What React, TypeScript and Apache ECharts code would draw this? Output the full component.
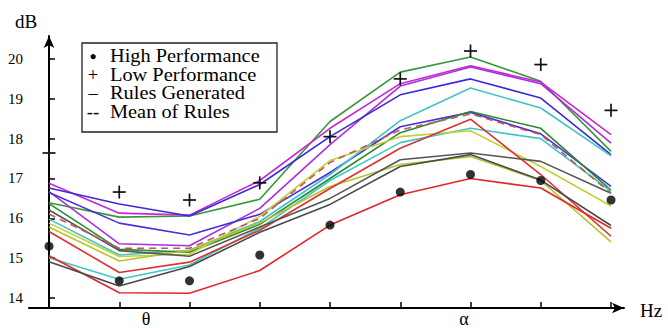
import React, { useEffect, useRef } from "react";
import * as echarts from "echarts";

const xIndex = [0, 1, 2, 3, 4, 5, 6, 7, 8];
const yTicks = [14, 15, 16, 17, 18, 19, 20];

const highPerformance = [15.3, 14.43, 14.43, 15.08, 15.83, 16.66, 17.1, 16.95, 16.46];
const lowPerformance = [17.64, 16.66, 16.46, 16.89, 18.05, 19.5, 20.2, 19.86, 18.71];
const meanOfRules = [16.11, 15.25, 15.25, 16.0, 17.4, 18.22, 18.62, 18.1, 16.63];

const ruleM1 = [16.88, 16.13, 16.08, 16.95, 18.26, 19.38, 19.83, 19.42, 18.1];
const ruleM2 = [16.67, 15.36, 15.31, 16.25, 17.85, 19.32, 19.8, 19.38, 17.89];
const ruleB1 = [16.76, 16.36, 16.06, 16.85, 18.05, 19.1, 19.5, 19.02, 17.6];
const ruleB2 = [16.65, 15.88, 15.58, 16.1, 17.15, 18.3, 18.66, 18.12, 16.8];
const ruleG1 = [16.39, 16.03, 16.06, 16.48, 18.43, 19.67, 20.05, 19.44, 17.68];
const ruleG2 = [16.37, 15.22, 15.15, 15.85, 17.0, 18.15, 18.68, 18.26, 16.71];
const ruleC1 = [15.98, 15.08, 15.2, 15.92, 17.1, 18.45, 19.27, 18.77, 17.57];
const ruleC2 = [15.01, 14.47, 14.83, 15.75, 16.95, 17.9, 18.26, 18.0, 16.68];
const ruleY1 = [15.88, 15.04, 15.1, 16.05, 17.45, 18.05, 18.2, 17.3, 16.31];
const ruleY2 = [15.78, 14.93, 15.2, 15.88, 16.8, 17.35, 17.55, 16.95, 15.41];
const ruleR1 = [15.67, 14.64, 14.9, 15.7, 16.75, 17.76, 18.49, 17.1, 15.55];
const ruleR2 = [15.06, 14.13, 14.12, 14.69, 15.83, 16.59, 17.0, 16.76, 15.75];
const ruleK1 = [16.21, 15.19, 15.05, 15.78, 16.5, 17.47, 17.64, 17.43, 16.63];
const ruleK2 = [14.91, 14.3, 14.79, 15.65, 16.35, 17.3, 17.6, 16.96, 15.82];

const rules: { values: number[]; color: string }[] = [
  { values: ruleG1, color: "#3a963a" },
  { values: ruleM1, color: "#c828d0" },
  { values: ruleM2, color: "#a830e0" },
  { values: ruleB1, color: "#3a2ad8" },
  { values: ruleB2, color: "#4a30d8" },
  { values: ruleC1, color: "#40c4c8" },
  { values: ruleG2, color: "#2f862f" },
  { values: ruleC2, color: "#40c8c8" },
  { values: ruleY1, color: "#c4d038" },
  { values: ruleY2, color: "#b4c428" },
  { values: ruleR1, color: "#e03030" },
  { values: ruleR2, color: "#e02828" },
  { values: ruleK1, color: "#555555" },
  { values: ruleK2, color: "#4a4a4a" },
];

const FONT = "'Liberation Serif', 'Times New Roman', serif";

const toPoints = (vals: number[]) => vals.map((v, i) => [xIndex[i], v]);

export default function App() {
  const ref = useRef<HTMLDivElement>(null);
  useEffect(() => {
    if (!ref.current) return;
    const chart = echarts.init(ref.current, null, { renderer: "svg" });
    const series: any[] = rules.map((r) => ({
      type: "line",
      data: toPoints(r.values),
      symbol: "none",
      lineStyle: { color: r.color, width: 1.6 },
      silent: true,
    }));
    series.push({
      type: "line",
      name: "Mean of Rules",
      data: toPoints(meanOfRules),
      symbol: "none",
      lineStyle: { color: "#c05a5a", width: 1.6, type: [7, 5] },
    });
    series.push({
      type: "scatter",
      name: "High Performance",
      data: toPoints(highPerformance),
      symbol: "circle",
      symbolSize: 9,
      itemStyle: { color: "#000" },
      clip: false,
      z: 5,
    });
    series.push({
      type: "custom",
      name: "Low Performance",
      data: toPoints(lowPerformance),
      encode: { x: 0, y: 1 },
      clip: false,
      z: 6,
      renderItem: (_params: any, api: any) => {
        const p = api.coord([api.value(0), api.value(1)]);
        const h = 6.5;
        return {
          type: "group",
          children: [
            { type: "line", shape: { x1: p[0] - h, y1: p[1], x2: p[0] + h, y2: p[1] }, style: { stroke: "#111", lineWidth: 1.7 } },
            { type: "line", shape: { x1: p[0], y1: p[1] - h, x2: p[0], y2: p[1] + h }, style: { stroke: "#111", lineWidth: 1.7 } },
          ],
        };
      },
    });

    const legendRows = [
      { sym: "●", label: "High Performance", y: 56, symSize: 12 },
      { sym: "+", label: "Low Performance", y: 74.5, symSize: 18.5 },
      { sym: "–", label: "Rules Generated", y: 93, symSize: 18.5 },
      { sym: "--", label: "Mean of Rules", y: 111.5, symSize: 18.5 },
    ];
    const graphics: any[] = [
      {
        type: "rect",
        shape: { x: 82, y: 43, width: 195, height: 89 },
        style: { fill: "#fff", stroke: "#222", lineWidth: 1.3 },
        z: 10,
      },
    ];
    legendRows.forEach((r) => {
      graphics.push({
        type: "text",
        x: 93,
        y: r.y,
        style: { text: r.sym, font: `${r.symSize}px ${FONT}`, fill: "#000", align: "center", verticalAlign: "middle" },
        z: 11,
      });
      graphics.push({
        type: "text",
        x: 110,
        y: r.y,
        scaleX: 1.1,
        style: { text: r.label, font: `18.5px ${FONT}`, fill: "#000", align: "left", verticalAlign: "middle" },
        z: 11,
      });
    });
    graphics.push(
      { type: "text", x: 26, y: 21, style: { text: "dB", font: `19px ${FONT}`, fill: "#000", align: "center", verticalAlign: "middle" } },
      { type: "text", x: 651, y: 310, style: { text: "Hz", font: `19px ${FONT}`, fill: "#000", align: "center", verticalAlign: "middle" } },
      { type: "text", x: 146, y: 319, style: { text: "θ", font: `18px ${FONT}`, lineHeight: 16, fill: "#000", align: "center", verticalAlign: "middle" } },
      { type: "text", x: 464, y: 319, style: { text: "α", font: `18px ${FONT}`, lineHeight: 16, fill: "#000", align: "center", verticalAlign: "middle" } }
    );

    chart.setOption({
      animation: false,
      backgroundColor: "#fff",
      grid: { left: 29, right: 44, top: 36, bottom: 20, containLabel: false },
      xAxis: {
        type: "value",
        min: -0.285,
        max: 8.185,
        splitLine: { show: false },
        axisLine: { show: true, lineStyle: { color: "#000", width: 2 }, symbol: ["none", "arrow"], symbolSize: [8, 12] },
        axisTick: { show: true, inside: true, length: 6, customValues: xIndex, lineStyle: { color: "#000", width: 1.5 } },
        axisLabel: { show: false },
      },
      yAxis: {
        type: "value",
        min: 13.749,
        max: 20.577,
        splitLine: { show: false },
        axisLine: { show: true, lineStyle: { color: "#000", width: 2 }, symbol: ["none", "arrow"], symbolSize: [8, 12] },
        axisTick: { show: true, inside: true, length: 6, customValues: yTicks, lineStyle: { color: "#000", width: 1.5 } },
        axisLabel: { show: true, customValues: yTicks, margin: 6, color: "#000", fontSize: 15, fontFamily: FONT },
      },
      series,
      graphic: graphics,
    });
    return () => chart.dispose();
  }, []);
  return <div ref={ref} style={{ width: 668, height: 328, position: "absolute", left: 0, top: 0 }} />;
}
